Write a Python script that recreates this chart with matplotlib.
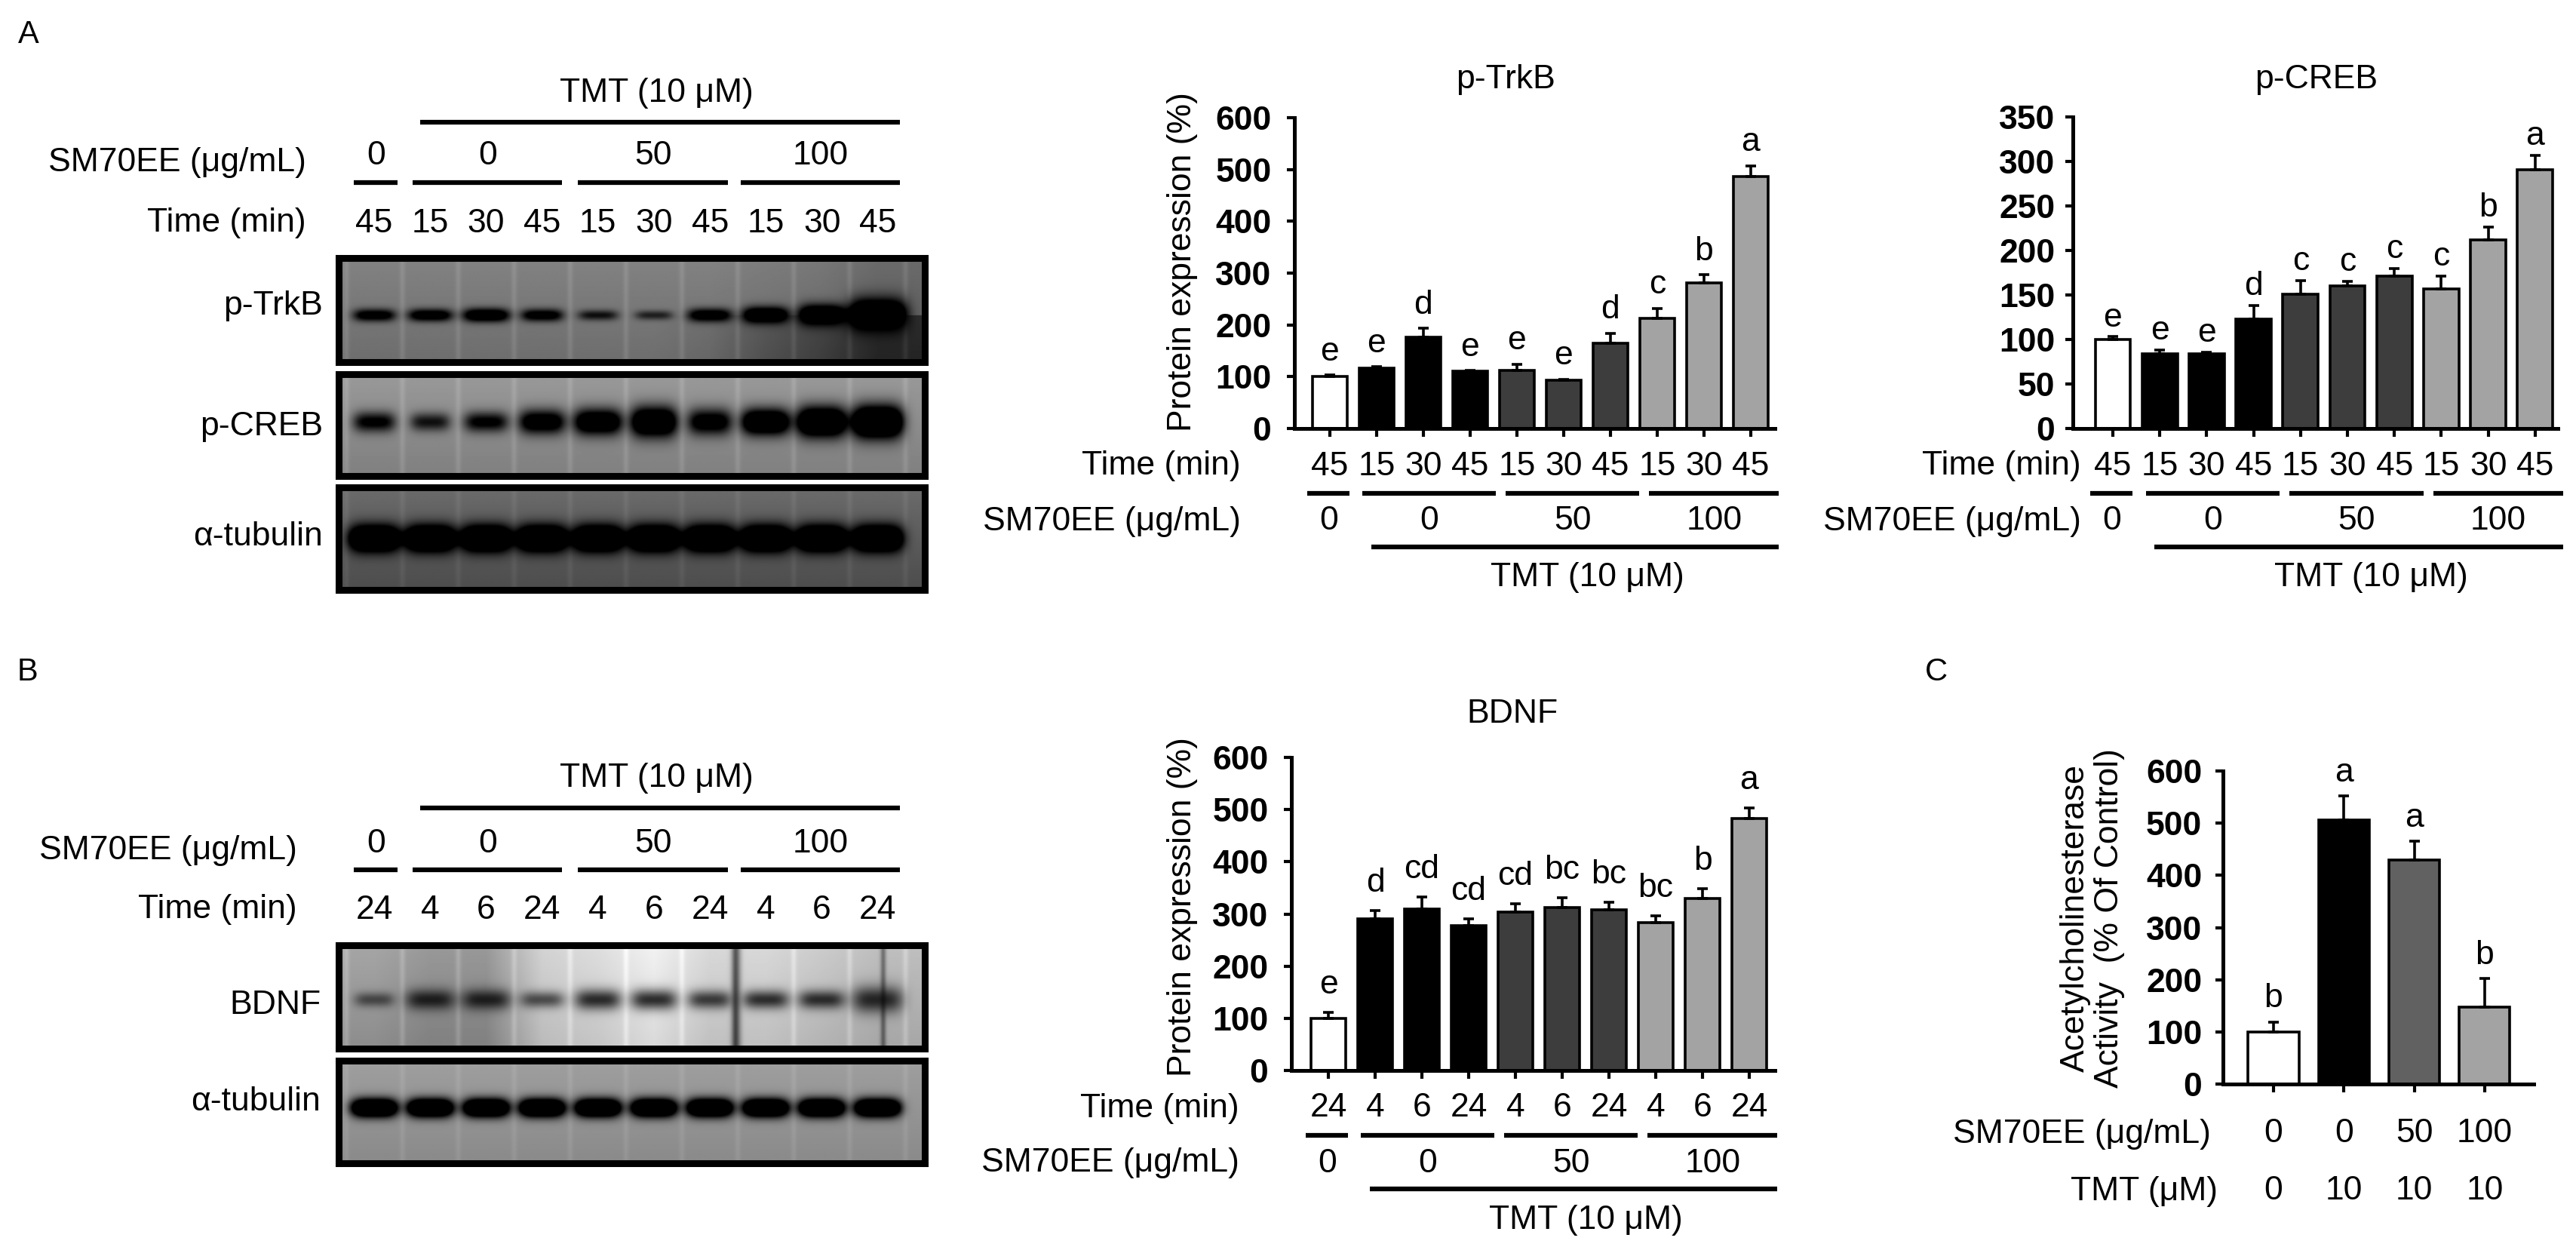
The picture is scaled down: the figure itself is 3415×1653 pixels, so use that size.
import numpy as np
import matplotlib
matplotlib.use("Agg")
import matplotlib.pyplot as plt
from matplotlib import transforms

plt.rcParams['font.family'] = ['Liberation Sans', 'DejaVu Sans']
plt.rcParams['font.size'] = 32

# ---- data ----
time_a = ['45', '15', '30', '45', '15', '30', '45', '15', '30', '45']
time_b = ['24', '4', '6', '24', '4', '6', '24', '4', '6', '24']
sm_groups = ['0', '0', '50', '100']

trkb_mean = [100, 116, 176, 110, 112, 93, 165, 212, 281, 487]
trkb_err = [3, 3, 17, 2, 12, 2, 19, 20, 16, 20]
trkb_sig = ['e', 'e', 'd', 'e', 'e', 'e', 'd', 'c', 'b', 'a']

creb_mean = [100, 84, 84, 123, 151, 160, 171, 157, 212, 291]
creb_err = [3, 4, 2, 15, 15, 5, 9, 14, 14, 16]
creb_sig = ['e', 'e', 'e', 'd', 'c', 'c', 'c', 'c', 'b', 'a']

bdnf_mean = [100, 291, 310, 277, 304, 312, 308, 283, 329, 483]
bdnf_err = [11, 16, 22, 13, 16, 19, 15, 13, 20, 20]
bdnf_sig = ['e', 'd', 'cd', 'cd', 'cd', 'bc', 'bc', 'bc', 'b', 'a']

ache_mean = [100, 506, 430, 147]
ache_err = [19, 46, 35, 55]
ache_sig = ['b', 'a', 'a', 'b']
ache_sm = ['0', '0', '50', '100']
ache_tmt = ['0', '10', '10', '10']

# band strength per lane for the blots (rough visual reading)
trkb_band = [1.3, 1.4, 1.6, 1.3, 0.9, 0.75, 1.4, 1.8, 2.0, 2.4]
creb_band = [1.1, 0.9, 1.1, 1.4, 1.6, 1.8, 1.3, 1.8, 2.0, 2.2]
tub_a_band = [2.5] * 10
bdnf_band = [0.55, 0.8, 0.8, 0.62, 0.8, 0.8, 0.72, 0.78, 0.78, 0.8]
tub_b_band = [2.2] * 10

ten = ['white'] + ['black'] * 3 + ['#3d3d3d'] * 3 + ['#a3a3a3'] * 3
four = ['white', 'black', '#616161', '#a3a3a3']

W, H = 3415, 1653
fig = plt.figure(figsize=(W / 100, H / 100), dpi=100)


def box(x0, y0, x1, y1):
    return [x0 / W, 1 - y1 / H, (x1 - x0) / W, (y1 - y0) / H]


def ftext(x, y, s, **kw):
    kw.setdefault('va', 'center')
    fig.text(x / W, 1 - y / H, s, **kw)


def blend(ax):
    return transforms.blended_transform_factory(ax.transData, fig.transFigure)


def hline(ax, x0, x1, y, lw=4.5):
    ax.plot([x0, x1], [1 - y / H, 1 - y / H], color='black', lw=lw,
            solid_capstyle='butt', transform=blend(ax), clip_on=False)


def ltext(ax, x, y, s, **kw):
    ax.text(x, 1 - y / H, s, transform=blend(ax), ha='center', va='center',
            clip_on=False, **kw)


seg_blot = [(-0.36, 0.42), (0.69, 3.36), (3.64, 6.32), (6.55, 9.4)]
seg_chart = [(-0.48, 0.42), (0.7, 3.55), (3.76, 6.62), (6.83, 9.6)]


# ---- western blots ----
lane0, lane_step = 496, 74.2
bx0, bx1 = 449, 1226
xl, xr = (bx0 - lane0) / lane_step, (bx1 - lane0) / lane_step


def blot(y0, y1, bands, bg_lanes, bg_grad, yc, hw, hh, streak=0.06, dark=(),
         low=None):
    ax = fig.add_axes(box(bx0, y0, bx1, y1))
    xs = np.linspace(xl, xr, 900)
    ys = np.linspace(0, 1, 200)
    X, Y = np.meshgrid(xs, ys)
    bg = np.interp(xs, np.arange(10), bg_lanes)[None, :] + bg_grad * (0.5 - Y)
    if low is not None:
        # darker smear below the band in some lanes
        bg = bg - np.interp(xs, np.arange(10), low)[None, :] * (Y > yc)
    for k in range(-1, 10):
        bg = bg + streak * np.exp(-((X - (k + 0.5)) / 0.05) ** 2)
    for pos, depth, wid in dark:
        bg = bg - depth * np.exp(-((X - pos) / wid) ** 2)
    dens = np.zeros_like(X)
    for i, amp in enumerate(bands):
        dens += amp * np.exp(-np.abs((X - i) / hw[i]) ** 4) * np.exp(-((Y - yc) / hh[i]) ** 2)
    img = np.clip(bg * (1 - np.clip(dens, 0, 1)), 0, 1)
    ax.imshow(img, extent=(xl, xr, 0, 1), origin='upper', aspect='auto',
              cmap='gray', vmin=0, vmax=1, interpolation='bilinear')
    ax.set_xlim(xl, xr)
    ax.set_ylim(0, 1)
    ax.set_xticks([])
    ax.set_yticks([])
    for s in ax.spines.values():
        s.set_linewidth(6.5)
    return ax


def blot_header(ax, tmt_y, line_y, grp_y, ul_y, time_y, times, label_x):
    ltext(ax, 5.05, tmt_y, 'TMT (10 μM)')
    hline(ax, 0.82, 9.4, line_y)
    ftext(label_x, grp_y + 9, 'SM70EE (μg/mL)', ha='right')
    for (a, b), g in zip(seg_blot, sm_groups):
        ltext(ax, (a + b) / 2, grp_y, g)
        hline(ax, a, b, ul_y)
    ftext(label_x, time_y, 'Time (min)', ha='right')
    for i, t in enumerate(times):
        ltext(ax, i, time_y, t)


ax1 = blot(342, 480, trkb_band, [0.47] * 7 + [0.45, 0.43, 0.38], 0.08, 0.55,
           [0.38, 0.4, 0.42, 0.38, 0.36, 0.34, 0.4, 0.42, 0.42, 0.52],
           [0.06, 0.06, 0.065, 0.06, 0.05, 0.045, 0.065, 0.08, 0.1, 0.15],
           low=[0, 0, 0, 0, 0, 0, 0.03, 0.1, 0.15, 0.2])
ax2 = blot(496, 631, creb_band, [0.55] * 10, 0.1, 0.47,
           [0.38, 0.36, 0.4, 0.42, 0.44, 0.42, 0.4, 0.44, 0.45, 0.46],
           [0.1, 0.09, 0.1, 0.12, 0.13, 0.15, 0.13, 0.13, 0.15, 0.16])
ax3 = blot(646, 782, tub_a_band, [0.36] * 10, 0.12, 0.5,
           [0.46] * 10, [0.13] * 10, streak=0.04)
blot_header(ax1, 124, 162, 207, 242, 296, time_a, 406)
ftext(428, 406, 'p-TrkB', ha='right')
ftext(428, 565, 'p-CREB', ha='right')
ftext(428, 712, 'α-tubulin', ha='right')

ax4 = blot(1253, 1390, bdnf_band, [0.6, 0.55, 0.55, 0.78, 0.82, 0.9, 0.8, 0.8, 0.75, 0.7], 0.1, 0.53,
           [0.36, 0.44, 0.44, 0.4, 0.42, 0.42, 0.4, 0.42, 0.42, 0.46],
           [0.07, 0.1, 0.1, 0.08, 0.1, 0.1, 0.09, 0.09, 0.09, 0.13],
           streak=0.08, dark=[(6.47, 0.55, 0.08), (9.1, 0.3, 0.05)])
ax5 = blot(1406, 1542, tub_b_band, [0.58] * 10, 0.08, 0.46,
           [0.42] * 10, [0.09] * 10, streak=0.04)
blot_header(ax4, 1031, 1071, 1118, 1153, 1206, time_b, 394)
ftext(425, 1332, 'BDNF', ha='right')
ftext(425, 1460, 'α-tubulin', ha='right')


# ---- bar charts ----
def bar_chart(rect, c0, step, ymax, ystep, means, errs, sigs, colors, sig_pad,
              width=0.75, pad=15):
    x0, y0, x1, y1 = rect
    ax = fig.add_axes(box(x0, y0, x1, y1))
    x = np.arange(len(means))
    ax.bar(x, means, width, color=colors, edgecolor='black', linewidth=2.6, zorder=2)
    ax.errorbar(x, means, yerr=[np.zeros(len(errs)), errs], fmt='none',
                ecolor='black', elinewidth=2.6, capsize=5, capthick=2.6, zorder=3)
    for xi, m, e, s in zip(x, means, errs, sigs):
        ax.annotate(s, (xi, m + e), xytext=(0, sig_pad), textcoords='offset points',
                    ha='center', va='baseline', fontsize=32)
    ax.set_xlim((x0 - c0) / step, (x1 - c0) / step)
    ax.set_ylim(0, ymax)
    ax.set_autoscale_on(False)
    ax.set_xticks(x, [''] * len(x))
    ticks = np.arange(0, ymax + 1, ystep)
    ax.set_yticks(ticks, [str(t) for t in ticks], fontweight='bold')
    ax.tick_params(axis='y', width=3, length=7, pad=pad, labelsize=32)
    ax.tick_params(axis='x', width=3, length=8)
    for s in ['top', 'right']:
        ax.spines[s].set_visible(False)
    for s in ['left', 'bottom']:
        ax.spines[s].set_linewidth(3.6)
    return ax


def chart_table(ax, zero_y, times, label_x):
    ftext(label_x, zero_y + 50, 'Time (min)', ha='right')
    for i, t in enumerate(times):
        ltext(ax, i, zero_y + 50, t)
    ftext(label_x, zero_y + 123, 'SM70EE (μg/mL)', ha='right')
    for (a, b), g in zip(seg_chart, sm_groups):
        hline(ax, a, b, zero_y + 86)
        ltext(ax, (a + b) / 2, zero_y + 123, g)
    hline(ax, 0.88, 9.6, zero_y + 157)
    ltext(ax, 5.5, zero_y + 198, 'TMT (10 μM)')


ax_t = bar_chart((1716, 156, 2353, 568), 1763, 62, 600, 100,
                 trkb_mean, trkb_err, trkb_sig, ten, 14)
chart_table(ax_t, 568, time_a, 1645)
ftext(1996, 106, 'p-TrkB', ha='center')
ftext(1568, 347, 'Protein expression (%)', ha='center', rotation=90)

ax_c = bar_chart((2748, 155, 3391, 568), 2801, 62.2, 350, 50,
                 creb_mean, creb_err, creb_sig, ten, 10, pad=10)
chart_table(ax_c, 568, time_a, 2759)
ftext(3071, 106, 'p-CREB', ha='center')

ax_b = bar_chart((1712, 1004, 2353, 1419), 1761, 62, 600, 100,
                 bdnf_mean, bdnf_err, bdnf_sig, ten, 18)
chart_table(ax_b, 1419, time_b, 1643)
ftext(2005, 946, 'BDNF', ha='center')
ftext(1568, 1202, 'Protein expression (%)', ha='center', rotation=90)

ax_a = bar_chart((2947, 1022, 3359, 1437), 3014, 93.3, 600, 100,
                 ache_mean, ache_err, ache_sig, four, 14, width=0.72, pad=13)
ftext(2774, 1217, 'Acetylcholinesterase\nActivity  (% Of Control)', ha='center',
      rotation=90, multialignment='center', linespacing=1.15)
ftext(2931, 1503, 'SM70EE (μg/mL)', ha='right')
ftext(2940, 1579, 'TMT (μM)', ha='right')
for i, (s, t) in enumerate(zip(ache_sm, ache_tmt)):
    ltext(ax_a, i, 1503, s)
    ltext(ax_a, i, 1579, t)

# panel letters
ftext(38, 46, 'A', ha='center', fontsize=30)
ftext(37, 891, 'B', ha='center', fontsize=30)
ftext(2567, 891, 'C', ha='center', fontsize=30)

fig.savefig('out.png', dpi=100, facecolor='white')
